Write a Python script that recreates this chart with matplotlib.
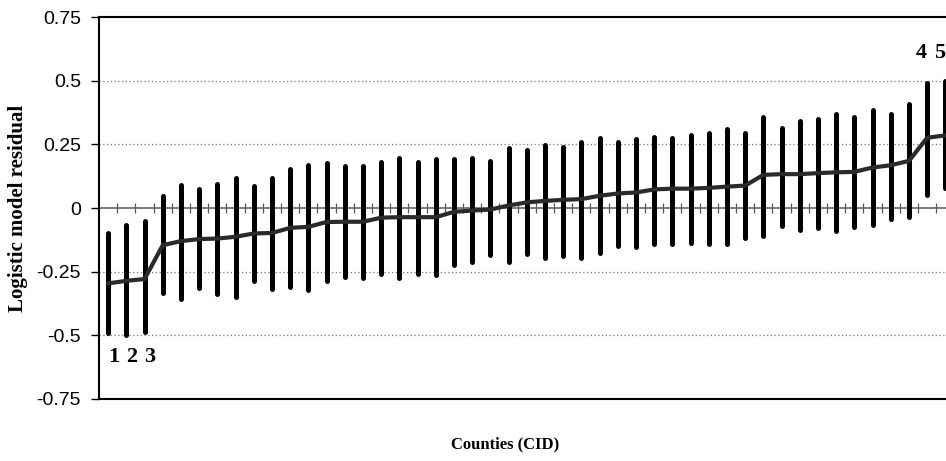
import numpy as np
import matplotlib
matplotlib.use("Agg")
import matplotlib.pyplot as plt

# residual (line) and interval ends for each county, sorted by residual
resid = [-0.296, -0.286, -0.279, -0.146, -0.130, -0.122, -0.120, -0.113, -0.100, -0.098,
         -0.078, -0.074, -0.055, -0.054, -0.054, -0.038, -0.036, -0.036, -0.036, -0.015,
         -0.010, -0.006, 0.010, 0.022, 0.028, 0.032, 0.035, 0.048, 0.057, 0.061,
         0.073, 0.076, 0.076, 0.079, 0.084, 0.088, 0.130, 0.133, 0.133, 0.137,
         0.140, 0.142, 0.159, 0.168, 0.185, 0.276, 0.285]
upper = [-0.100, -0.068, -0.052, 0.047, 0.089, 0.073, 0.095, 0.118, 0.086, 0.117,
         0.154, 0.169, 0.176, 0.164, 0.164, 0.179, 0.195, 0.179, 0.192, 0.192,
         0.195, 0.183, 0.235, 0.228, 0.247, 0.241, 0.258, 0.273, 0.260, 0.271,
         0.280, 0.276, 0.286, 0.295, 0.311, 0.293, 0.358, 0.315, 0.340, 0.350,
         0.370, 0.356, 0.386, 0.370, 0.410, 0.490, 0.500]
lower = [-0.490, -0.500, -0.485, -0.335, -0.357, -0.315, -0.339, -0.350, -0.286, -0.320,
         -0.309, -0.322, -0.285, -0.272, -0.276, -0.260, -0.276, -0.259, -0.265, -0.222,
         -0.214, -0.186, -0.214, -0.182, -0.197, -0.187, -0.197, -0.178, -0.149, -0.152,
         -0.142, -0.142, -0.139, -0.140, -0.142, -0.117, -0.109, -0.070, -0.087, -0.078,
         -0.090, -0.074, -0.065, -0.045, -0.035, 0.052, 0.078]

# outlying counties marked with numbers
marked_idx = [0, 1, 2, 45, 46]
marked_txt = ['1', '2', '3', '4', '5']

yticks = [-0.75, -0.5, -0.25, 0, 0.25, 0.5, 0.75]
ytick_labels = ['-0.75', '-0.5', '-0.25', '0', '0.25', '0.5', '0.75']

n = len(resid)
x = np.arange(n)

fig = plt.figure(figsize=(9.46, 4.61), dpi=100)
# axes runs past the right edge like the cropped original
ax = fig.add_axes([0.1047, 0.1345, 0.9235, 0.8286])

ax.set_xlim(-0.5, n + 0.5)
ax.set_ylim(-0.75, 0.75)

# dotted gridlines
for v in [-0.5, -0.25, 0.25, 0.5]:
    ax.axhline(v, color='#777777', lw=0.9, ls=(0, (1, 2)), zorder=0)

ax.vlines(x, lower, upper, color='black', lw=3.6, capstyle='round', zorder=3)
ax.plot(x, resid, color='#2a2a2a', lw=3.0, solid_capstyle='round', zorder=4)

# category axis at zero
sec = ax.secondary_xaxis(0.5)
sec.set_xticks(x[:-1] + 0.5)
sec.set_xticklabels([])
sec.tick_params(direction='inout', length=7, width=0.9, color='#555555',
                labelbottom=False, labeltop=False)
for s in sec.spines.values():
    s.set_color('#666666')
    s.set_linewidth(1.2)

ax.set_xticks([])
ax.set_yticks(yticks)
ax.set_yticklabels(ytick_labels, fontsize=14, family='Liberation Sans')
ax.tick_params(axis='y', direction='out', length=6, width=1, pad=7)

for s in ['left', 'top', 'bottom']:
    ax.spines[s].set_linewidth(1.5)
ax.spines['right'].set_visible(False)

for i, t in zip(marked_idx, marked_txt):
    if resid[i] < 0:
        ax.text(i + 0.3, -0.585, t, ha='center', va='center',
                fontsize=16, fontweight='bold', family='Liberation Serif')
    else:
        ax.text(i - 0.3, 0.61, t, ha='center', va='center',
                fontsize=16, fontweight='bold', family='Liberation Serif')

fig.text(18 / 946, 1 - 208 / 461, 'Logistic model residual', rotation=90,
         ha='center', va='center', fontsize=15, fontweight='bold', family='Liberation Serif')
fig.text(505 / 946, 1 - 444 / 461, 'Counties (CID)', ha='center', va='center',
         fontsize=12, fontweight='bold', family='Liberation Serif')

fig.savefig('out.png', dpi=100)
